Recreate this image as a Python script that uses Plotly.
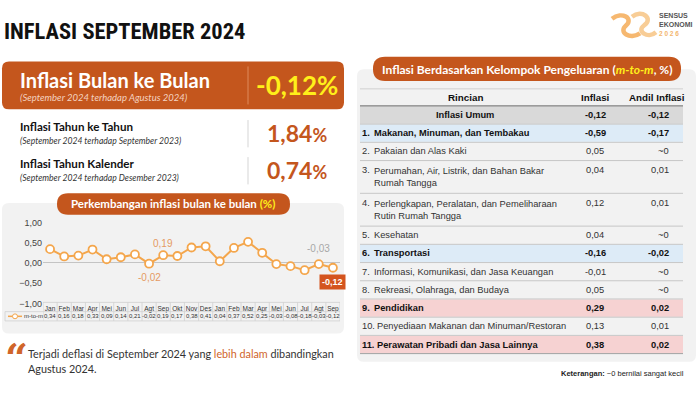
import plotly.graph_objects as go

W, H = 700, 400


def X(p):
    return p / W


def Y(p):
    return 1 - p / H


# ---------------- data ----------------
title_text = "INFLASI SEPTEMBER 2024"
mtm_now = -0.12
yoy = 1.84
ytd = 0.74

months = ["Jan", "Feb", "Mar", "Apr", "Mei", "Jun", "Jul", "Agt", "Sep", "Okt", "Nov", "Des",
          "Jan", "Feb", "Mar", "Apr", "Mei", "Jun", "Jul", "Agt", "Sep"]
mtm = [0.34, 0.16, 0.18, 0.33, 0.09, 0.14, 0.21, -0.02, 0.19, 0.17, 0.38, 0.41,
       0.04, 0.37, 0.52, 0.25, -0.03, -0.08, -0.18, -0.03, -0.12]
y_ticks = [-1.0, -0.5, 0.0, 0.5, 1.0]

group_names = [
    "Inflasi Umum",
    "Makanan, Minuman, dan Tembakau",
    "Pakaian dan Alas Kaki",
    "Perumahan, Air, Listrik, dan Bahan Bakar<br>Rumah Tangga",
    "Perlengkapan, Peralatan, dan Pemeliharaan<br>Rutin Rumah Tangga",
    "Kesehatan",
    "Transportasi",
    "Informasi, Komunikasi, dan Jasa Keuangan",
    "Rekreasi, Olahraga, dan Budaya",
    "Pendidikan",
    "Penyediaan Makanan dan Minuman/Restoran",
    "Perawatan Pribadi dan Jasa Lainnya",
]
group_inflasi = [-0.12, -0.59, 0.05, 0.04, 0.12, 0.04, -0.16, -0.01, 0.05, 0.29, 0.13, 0.38]
group_andil = [-0.12, -0.17, None, 0.01, 0.01, None, -0.02, None, None, 0.02, 0.01, 0.02]  # None = ~0

# ---------------- style ----------------
ORANGE = "#C4561D"
YELLOW = "#FFEF1A"
LINE_OR = "#F4A64C"
TITLE_FONT = "Liberation Sans Narrow, Roboto Condensed, DejaVu Sans Condensed, Roboto, sans-serif"
UI = "Lato, Open Sans, sans-serif"
TBL = "Liberation Sans, Arial, sans-serif"
TS = 9.3  # table font size


def fmt(v):
    return f"{v:.2f}".replace(".", ",")


shapes = []
ann = []


def rrect(x0, y0, x1, y1, r, fill, layer="below"):
    p = (f"M {X(x0 + r)},{Y(y0)} L {X(x1 - r)},{Y(y0)} Q {X(x1)},{Y(y0)} {X(x1)},{Y(y0 + r)} "
         f"L {X(x1)},{Y(y1 - r)} Q {X(x1)},{Y(y1)} {X(x1 - r)},{Y(y1)} "
         f"L {X(x0 + r)},{Y(y1)} Q {X(x0)},{Y(y1)} {X(x0)},{Y(y1 - r)} "
         f"L {X(x0)},{Y(y0 + r)} Q {X(x0)},{Y(y0)} {X(x0 + r)},{Y(y0)} Z")
    shapes.append(dict(type="path", path=p, xref="paper", yref="paper",
                       fillcolor=fill, line=dict(width=0), layer=layer))


def rect(x0, y0, x1, y1, fill):
    shapes.append(dict(type="rect", xref="paper", yref="paper", x0=X(x0), x1=X(x1),
                       y0=Y(y1), y1=Y(y0), fillcolor=fill, line=dict(width=0), layer="below"))


def hline(x0, x1, y, color, width=1):
    shapes.append(dict(type="line", xref="paper", yref="paper", x0=X(x0), x1=X(x1),
                       y0=Y(y), y1=Y(y), line=dict(color=color, width=width)))


def vline(x, y0, y1, color, width=1):
    shapes.append(dict(type="line", xref="paper", yref="paper", x0=X(x), x1=X(x),
                       y0=Y(y0), y1=Y(y1), line=dict(color=color, width=width)))


def txt(x, y, s, size, color, anchor="left", family=UI, align="left"):
    ann.append(dict(x=X(x), y=Y(y), xref="paper", yref="paper", text=s, showarrow=False,
                    xanchor=anchor, yanchor="middle", align=align,
                    font=dict(size=size, color=color, family=family)))


# ---------------- header ----------------
txt(2, 27, f"<b>{title_text}</b>", 22.5, "#111111", family=TITLE_FONT)


# logo
def curve(pts, color, width):
    p = f"M {X(pts[0][0])},{Y(pts[0][1])}"
    for i in range(1, len(pts), 3):
        a, b, c = pts[i], pts[i + 1], pts[i + 2]
        p += f" C {X(a[0])},{Y(a[1])} {X(b[0])},{Y(b[1])} {X(c[0])},{Y(c[1])}"
    shapes.append(dict(type="path", path=p, xref="paper", yref="paper",
                       line=dict(color=color, width=width)))


curve([(612, 14), (622, 6), (634, 14), (626, 21), (618, 28), (630, 36), (640, 29)], "#F6B870", 4.5)
curve([(632, 12), (642, 4), (654, 14), (644, 21), (636, 27), (648, 35), (656, 28)], "#F8CD96", 4.5)
txt(657, 11, "<b>SENSUS</b>", 7, "#555555", family=TBL)
txt(657, 20, "<b>EKONOMI</b>", 7, "#555555", family=TBL)
txt(657, 29, "<b>2 0 2 6</b>", 6.5, "#F3B66E", family=TBL)

# ---------------- left: headline numbers ----------------
rrect(2, 58, 344, 107, 7, ORANGE)
vline(248, 63, 102, "#DE8A5C", 1)
txt(18, 77, "<b>Inflasi Bulan ke Bulan</b>", 20, "#FFFFFF")
txt(18, 95, "<i>(September 2024 terhadap Agustus 2024)</i>", 9.5, "#F4D3C0")
txt(297, 82, f"<b>{fmt(mtm_now)}%</b>", 26, YELLOW, anchor="center")

vline(248, 118, 146, "#D5D5D5", 1)
txt(18, 125, "<b>Inflasi Tahun ke Tahun</b>", 11.6, "#111111")
txt(18, 139, "<i>(September 2024 terhadap September 2023)</i>", 8.6, "#333333")
txt(297, 131, f"<b>{fmt(yoy)}<span style='font-size:18px'>%</span></b>", 23, ORANGE, anchor="center")

vline(248, 156, 184, "#D5D5D5", 1)
txt(18, 163, "<b>Inflasi Tahun Kalender</b>", 11.6, "#111111")
txt(18, 177, "<i>(September 2024 terhadap Desember 2023)</i>", 8.6, "#333333")
txt(297, 169, f"<b>{fmt(ytd)}<span style='font-size:18px'>%</span></b>", 23, ORANGE, anchor="center")

# ---------------- left: line chart panel ----------------
rrect(2, 203, 344, 337, 7, "#F2F2F2")
rrect(57, 193, 290, 215, 11, ORANGE)
txt(173, 204, f"<b>Perkembangan inflasi bulan ke bulan <span style='color:{YELLOW}'>(%)</span></b>",
    11.5, "#FFFFFF", anchor="center")

n = len(months)
TB_TOP, TB_MID, TB_BOT = 305, 314.5, 324
GRID = "#D0D0D0"
hline(43, 340, TB_TOP, GRID, 0.8)
hline(5, 340, TB_MID, GRID, 0.8)
hline(5, 340, TB_BOT, GRID, 0.8)
vline(5, TB_MID, TB_BOT, GRID, 0.8)
for i in range(n + 1):
    shapes.append(dict(type="line", xref="x", yref="paper", x0=i - 0.5, x1=i - 0.5,
                       y0=Y(TB_BOT), y1=Y(TB_TOP), line=dict(color=GRID, width=0.8)))
for i, v in enumerate(mtm):
    ann.append(dict(x=i, y=Y(319.3), xref="x", yref="paper", text=fmt(v), showarrow=False,
                    xanchor="center", yanchor="middle", font=dict(size=6, color="#333333", family=TBL)))
# legend cell
hline(8, 22, 319.3, LINE_OR, 1.5)
shapes.append(dict(type="circle", xref="paper", yref="paper", x0=X(12.5), x1=X(17.5),
                   y0=Y(321.8), y1=Y(316.8), fillcolor="white", line=dict(color=LINE_OR, width=1)))
txt(22, 319.3, "m-to-m", 6, "#333333", family=TBL)

# point labels
LBL = "#E59A63"
ann.append(dict(x=8, y=mtm[8], xref="x", yref="y", text=fmt(mtm[8]), showarrow=False,
                yshift=12, font=dict(size=10, color=LBL, family=TBL)))
ann.append(dict(x=7, y=mtm[7], xref="x", yref="y", text=fmt(mtm[7]), showarrow=False,
                yshift=-14, font=dict(size=10, color=LBL, family=TBL)))
ann.append(dict(x=19, y=mtm[19], xref="x", yref="y", text=fmt(mtm[19]), showarrow=False,
                yshift=16, font=dict(size=10, color="#A8A8A8", family=TBL)))
ann.append(dict(x=20, y=mtm[20], xref="x", yref="y", text=f"<b>{fmt(mtm[20])}</b>", showarrow=False,
                yshift=-14, bgcolor="#D4541E", borderpad=2,
                font=dict(size=9, color="#FFFFFF", family=TBL)))

# quote
txt(3, 362, "<b>\u201C</b>", 40, "#D0652A", family="DejaVu Serif, serif")
txt(26, 357, "Terjadi deflasi di September 2024 yang <span style='color:#D0652A'>lebih dalam</span> dibandingkan",
    10.8, "#333333")
txt(26, 373, "Agustus 2024.", 10.8, "#333333")

# ---------------- right: table ----------------
rrect(357, 66, 696, 366, 7, "#F2F2F2")
rrect(373, 53, 681, 78, 12, ORANGE)
txt(527, 66, f"<b>Inflasi Berdasarkan Kelompok Pengeluaran (<i><span style='color:{YELLOW}'>m-to-m</span></i>, %)</b>",
    12, "#FFFFFF", anchor="center")

TX0, TX1 = 360, 683
C_INF, C_AND = 595, 670
hline(TX0, TX1, 86, "#C8C8C8", 0.8)
txt(465, 94.5, "<b>Rincian</b>", TS + 0.5, "#111111", anchor="center", family=TBL)
txt(C_INF, 94.5, "<b>Inflasi</b>", TS + 0.5, "#111111", anchor="center", family=TBL)
txt(657, 94.5, "<b>Andil Inflasi</b>", TS + 0.5, "#111111", anchor="center", family=TBL)

single_h = 18.68
fills = {0: "#D9D9D9", 1: "#DDEBF7", 6: "#DDEBF7", 9: "#F6D2D2", 11: "#F6D2D2"}
bold_rows = {0, 1, 6, 9, 11}
y = 103.5
for i, name in enumerate(group_names):
    lines = name.count("<br>") + 1
    h = single_h if lines == 1 else single_h * 1.8
    y0, y1 = y, y + h
    if i in fills:
        rect(TX0, y0 + 0.5, TX1, y1 - 0.5, fills[i])
    yc = (y0 + y1) / 2
    yt = yc if lines == 1 else y0 + 9.5
    b0, b1 = ("<b>", "</b>") if i in bold_rows else ("", "")
    col = "#111111" if i in bold_rows else "#333333"
    if i == 0:
        txt(465, yc, f"{b0}{name}{b1}", TS, col, anchor="center", family=TBL)
    else:
        txt(360, yt, f"{b0}{i}.{b1}", TS, col, family=TBL)
        bx = 372 if i < 10 else 375
        txt(bx, yc, f"{b0}{name}{b1}", TS, col, family=TBL, align="left")
    txt(C_INF, yt, f"{b0}{fmt(group_inflasi[i])}{b1}", TS, col, anchor="center", family=TBL)
    a = group_andil[i]
    atxt = "~0" if a is None else fmt(a)
    txt(C_AND + 1, yt, f"{b0}{atxt}{b1}", TS, col, anchor="right", family=TBL)
    y = y1
    hline(TX0, TX1, y, "#BDBDBD" if i < len(group_names) - 1 else "#8C8C8C", 0.8)
hline(TX0, TX1, 103.5, "#7F7F7F", 1.2)

txt(686, 378, "<b>Keterangan:</b> ~0 bernilai sangat kecil", 7.5, "#222222", anchor="right", family=TBL)

# ---------------- figure ----------------
fig = go.Figure()
fig.add_trace(go.Scatter(
    x=list(range(n)), y=mtm, mode="lines+markers",
    line=dict(color=LINE_OR, width=2),
    marker=dict(size=8, color="#FFFFFF", line=dict(color=LINE_OR, width=1.8)),
    hoverinfo="skip", showlegend=False, cliponaxis=False,
))

fig.update_layout(
    width=W, height=H, autosize=False,
    margin=dict(l=0, r=0, t=0, b=0, pad=0),
    paper_bgcolor="#FFFFFF", plot_bgcolor="rgba(0,0,0,0)",
    separators=",.",
    showlegend=False,
    shapes=shapes, annotations=ann,
    xaxis=dict(domain=[X(43), X(340)], range=[-0.5, n - 0.5],
               tickvals=list(range(n)), ticktext=months, tickangle=0,
               tickfont=dict(size=6.5, color="#333333", family=TBL),
               showgrid=False, zeroline=False, showline=False, ticks="", fixedrange=True),
    yaxis=dict(domain=[Y(306), Y(223)], range=[-1, 1],
               tickvals=y_ticks, tickformat=".2f",
               tickfont=dict(size=9, color="#444444", family=TBL),
               showgrid=False, zeroline=True, zerolinecolor="#C4C4C4", zerolinewidth=1,
               showline=False, ticks="", fixedrange=True),
)

fig.write_html("out.html", config={"displayModeBar": False},
               post_script="document.body.style.margin='0';document.body.style.overflow='hidden';")
